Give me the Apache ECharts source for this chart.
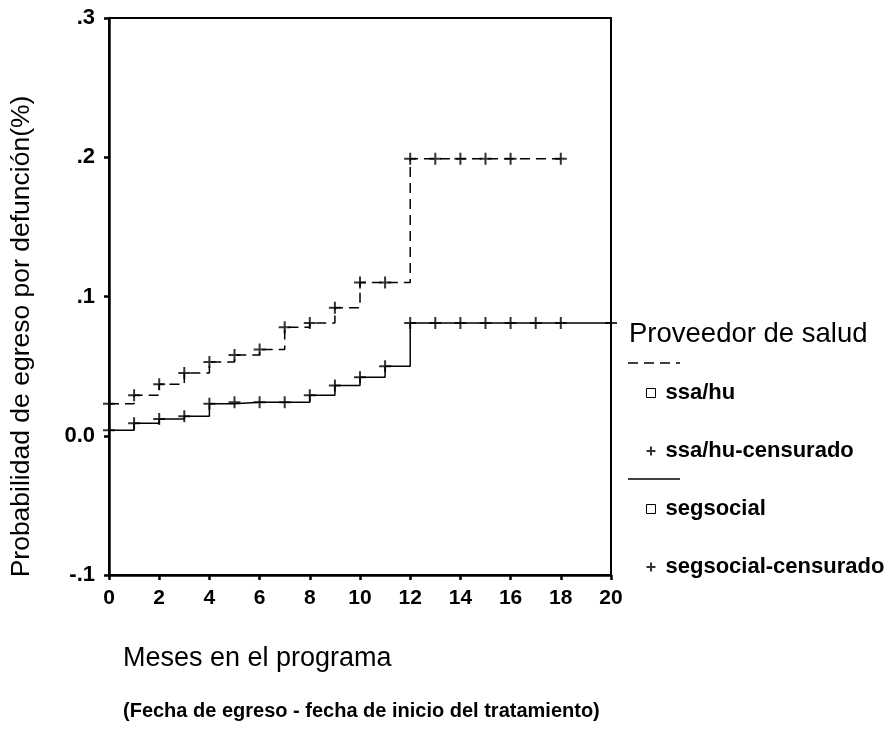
<!DOCTYPE html>
<html>
<head>
<meta charset="utf-8">
<script src="https://cdn.jsdelivr.net/npm/echarts@6/dist/echarts.min.js"></script>
<style>
html,body{margin:0;padding:0;background:#fff;}
#chart{width:891px;height:748px;}
</style>
</head>
<body>
<div id="chart"></div>
<script>
// ---- data ----
const ssaHuMonths = [0,1,2,3,4,5,6,7,8,9,10,11,12,13,14,15,16,17,18];
const ssaHuValues = [0.023,0.029,0.037,0.045,0.053,0.058,0.062,0.078,0.081,0.092,0.110,0.110,0.199,0.199,0.199,0.199,0.199,0.199,0.199];
const ssaHuCensMonths = [0,1,2,3,4,5,6,7,8,9,10,11,12,13,14,15,16,18];

const segMonths = [0,1,2,3,4,5,6,7,8,9,10,11,12,13,14,15,16,17,18,20];
const segValues = [0.004,0.009,0.012,0.014,0.023,0.024,0.024,0.024,0.029,0.036,0.042,0.050,0.081,0.081,0.081,0.081,0.081,0.081,0.081,0.081];
const segCensMonths = [0,1,2,3,4,5,6,7,8,9,10,11,12,13,14,15,16,17,18,20];

const xTickValues = [0,2,4,6,8,10,12,14,16,18,20];
const yTickValues = [-0.1,0,0.1,0.2,0.3];
const yTickLabels = ['-.1','0.0','.1','.2','.3'];

const seriesNames = ['ssa/hu','ssa/hu-censurado','segsocial','segsocial-censurado'];
const legendTitle = 'Proveedor de salud';
const yAxisTitle = 'Probabilidad de egreso por defunción(%)';
const xAxisTitle = 'Meses en el programa';
const xAxisSubtitle = '(Fecha de egreso - fecha de inicio del tratamiento)';

// ---- build ----
function pairs(ms, vs){ return ms.map((m,i)=>[m, vs[i]]); }
function censored(cm, ms, vs){ return cm.map(m => [m, vs[ms.indexOf(m)]]); }

const plusPath = 'path://M5,0V10M0,5H10';
const squarePath = 'path://M0,0H10V10H0Z';
const FONT = '"Liberation Sans", Arial, sans-serif';

const chart = echarts.init(document.getElementById('chart'));
chart.setOption({
  backgroundColor: '#fff',
  animation: false,
  title: {
    text: xAxisTitle,
    subtext: xAxisSubtitle,
    left: 118,
    top: 640,
    itemGap: 29,
    textStyle: {fontFamily: FONT, fontSize: 27, fontWeight: 'normal', color: '#000'},
    subtextStyle: {fontFamily: FONT, fontSize: 20, fontWeight: 'bold', color: '#000'}
  },
  grid: {
    left: 107, top: 18, right: 280, bottom: 173,
    show: true, borderColor: '#000', borderWidth: 2, backgroundColor: 'transparent'
  },
  legend: {
    orient: 'vertical',
    left: 639,
    top: 376,
    itemWidth: 9,
    itemHeight: 9,
    itemGap: 34,
    selectedMode: false,
    textStyle: {fontFamily: FONT, fontSize: 22, fontWeight: 'bold', color: '#000', lineHeight: 24, padding: [0,0,0,5]},
    data: [
      {name: seriesNames[0], icon: squarePath, itemStyle: {color: 'none', borderColor: '#000', borderWidth: 1}},
      {name: seriesNames[1], icon: plusPath, itemStyle: {color: 'none', borderColor: '#000', borderWidth: 2}},
      {name: seriesNames[2], icon: squarePath, itemStyle: {color: 'none', borderColor: '#000', borderWidth: 1}},
      {name: seriesNames[3], icon: plusPath, itemStyle: {color: 'none', borderColor: '#000', borderWidth: 2}}
    ]
  },
  graphic: [
    {type: 'text', left: 629, top: 320, style: {text: legendTitle, font: 'normal 27.5px ' + FONT, fill: '#000'}},
    {type: 'line', shape: {x1: 628, y1: 363, x2: 680, y2: 363}, style: {stroke: '#000', lineWidth: 1.5, lineDash: [10, 6]}},
    {type: 'line', shape: {x1: 628, y1: 479, x2: 680, y2: 479}, style: {stroke: '#000', lineWidth: 1.5}}
  ],
  xAxis: {
    type: 'value', min: 0, max: 20, interval: 2,
    axisLine: {show: true, onZero: false, lineStyle: {color: '#000', width: 2.5}},
    axisTick: {show: true, inside: false, length: 5, lineStyle: {color: '#000', width: 2.5}},
    axisLabel: {margin: 13, fontFamily: FONT, fontSize: 21, fontWeight: 'bold', color: '#000'},
    splitLine: {show: false}
  },
  yAxis: {
    type: 'value', min: -0.1, max: 0.3, interval: 0.1,
    name: yAxisTitle,
    nameLocation: 'middle',
    nameGap: 74,
    nameRotate: 90,
    nameTextStyle: {fontFamily: FONT, fontSize: 26.5, color: '#000', padding: [0, 80, 0, 0]},
    axisLine: {show: true, onZero: false, lineStyle: {color: '#000', width: 2.5}},
    axisTick: {show: true, inside: false, length: 5, lineStyle: {color: '#000', width: 2.5}},
    axisLabel: {
      margin: 14, fontFamily: FONT, fontSize: 22, fontWeight: 'bold', color: '#000',
      formatter: function(v){
        for (let i = 0; i < yTickValues.length; i++) if (Math.abs(v - yTickValues[i]) < 1e-9) return yTickLabels[i];
        return '';
      }
    },
    splitLine: {show: false}
  },
  series: [
    {
      name: seriesNames[0], type: 'line', step: 'end', symbol: 'none',
      data: pairs(ssaHuMonths, ssaHuValues),
      lineStyle: {color: '#000', width: 1.5, type: [10, 6]},
      itemStyle: {color: '#000'}
    },
    {
      name: seriesNames[1], type: 'scatter', symbol: plusPath, symbolSize: 12,
      data: censored(ssaHuCensMonths, ssaHuMonths, ssaHuValues),
      itemStyle: {color: 'none', borderColor: '#000', borderWidth: 2}
    },
    {
      name: seriesNames[2], type: 'line', step: 'end', symbol: 'none',
      data: pairs(segMonths, segValues),
      lineStyle: {color: '#000', width: 1.5},
      itemStyle: {color: '#000'}
    },
    {
      name: seriesNames[3], type: 'scatter', symbol: plusPath, symbolSize: 12,
      data: censored(segCensMonths, segMonths, segValues),
      itemStyle: {color: 'none', borderColor: '#000', borderWidth: 2}
    }
  ]
});
</script>
</body>
</html>
